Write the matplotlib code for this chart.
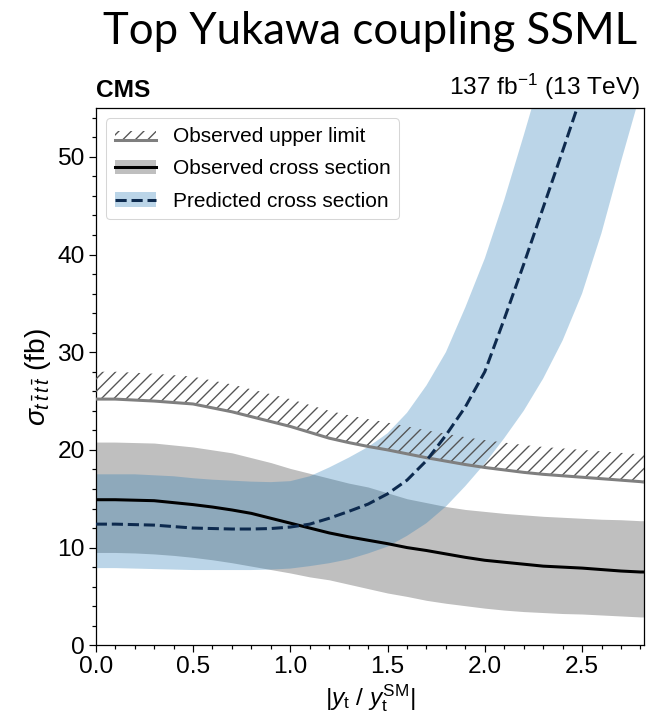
import matplotlib
matplotlib.use("Agg")
import matplotlib.pyplot as plt
from matplotlib.patches import Patch, Rectangle
from matplotlib.lines import Line2D
from matplotlib.legend_handler import HandlerBase, HandlerTuple

# |y_t / y_t^SM| scan points
kt = [0.0, 0.1, 0.2, 0.3, 0.4, 0.5, 0.6, 0.7, 0.8, 0.9, 1.0, 1.1, 1.2, 1.3, 1.4,
      1.5, 1.6, 1.7, 1.8, 1.9, 2.0, 2.1, 2.2, 2.3, 2.4, 2.5, 2.6, 2.7, 2.8, 2.82]

# observed 95% CL upper limit on sigma(tttt) [fb]
limit_obs = [25.2, 25.2, 25.1, 25.0, 24.85, 24.7, 24.3, 23.9, 23.4, 22.9, 22.4, 21.8,
             21.2, 20.75, 20.35, 20.0, 19.6, 19.2, 18.85, 18.5, 18.2, 17.95, 17.7,
             17.5, 17.35, 17.2, 17.05, 16.9, 16.75, 16.7]

# observed cross section and its 68% interval [fb]
xsec_obs = [14.9, 14.9, 14.85, 14.8, 14.6, 14.4, 14.15, 13.85, 13.5, 13.0, 12.5, 12.0,
            11.5, 11.1, 10.75, 10.4, 10.0, 9.7, 9.35, 9.0, 8.7, 8.5, 8.3, 8.1, 8.0,
            7.9, 7.75, 7.6, 7.5, 7.5]
xsec_obs_hi = [20.8, 20.8, 20.75, 20.7, 20.5, 20.3, 20.0, 19.7, 19.2, 18.7, 18.1, 17.6,
               17.1, 16.6, 16.2, 15.6, 15.0, 14.6, 14.2, 13.9, 13.7, 13.5, 13.35, 13.2,
               13.1, 13.0, 12.9, 12.85, 12.75, 12.75]
xsec_obs_lo = [9.5, 9.5, 9.45, 9.35, 9.2, 9.0, 8.75, 8.45, 8.1, 7.75, 7.4, 7.0, 6.7,
               6.25, 5.8, 5.35, 5.0, 4.6, 4.3, 4.05, 3.8, 3.6, 3.45, 3.35, 3.25, 3.2,
               3.1, 3.0, 2.9, 2.9]

# predicted cross section and its uncertainty band [fb]
xsec_pred = [12.4, 12.4, 12.35, 12.3, 12.15, 12.0, 11.95, 11.9, 11.9, 11.95, 12.1, 12.4,
             13.0, 13.7, 14.45, 15.5, 16.9, 18.9, 21.5, 24.4, 28.0, 33.4, 39.0, 44.8,
             50.6, 56.5, 64.0, 72.0, 80.0, 82.0]
xsec_pred_hi = [17.5, 17.5, 17.5, 17.4, 17.3, 17.1, 16.95, 16.85, 16.75, 16.7, 16.8,
                17.3, 18.2, 19.2, 20.3, 21.7, 23.8, 26.6, 30.0, 34.6, 39.6, 45.6, 52.2,
                59.0, 67.0, 76.0, 86.0, 97.0, 108.0, 110.0]
xsec_pred_lo = [7.9, 7.9, 7.85, 7.8, 7.75, 7.7, 7.7, 7.7, 7.7, 7.75, 7.85, 8.1, 8.4,
                8.8, 9.4, 10.1, 11.2, 12.5, 14.2, 16.3, 18.6, 21.2, 24.0, 27.3, 31.2,
                36.0, 42.2, 49.5, 56.5, 58.0]

x_ticks = [0.0, 0.5, 1.0, 1.5, 2.0, 2.5]
y_ticks = [0, 10, 20, 30, 40, 50]

plt.rcParams.update({
    "font.family": ["Liberation Sans", "DejaVu Sans"],
    "mathtext.fontset": "custom",
    "mathtext.rm": "Liberation Sans",
    "mathtext.it": "Liberation Sans:italic",
    "mathtext.bf": "Liberation Sans:bold",
    "hatch.linewidth": 1.3,
    "axes.linewidth": 1.2,
})

DPI = 75
fig = plt.figure(figsize=(652 / DPI, 718 / DPI), dpi=DPI)
ax = fig.add_axes([0.1469, 0.1013, 0.9882 - 0.1469, 0.8496 - 0.1013])

HATCH_H = 2.8
lim_top = [v + HATCH_H for v in limit_obs]

GRAY_LINE = "#7f7f7f"
HATCH_COL = "#555555"
NAVY = "#0d2a4e"

ax.fill_between(kt, xsec_obs_lo, xsec_obs_hi, color="#bfbfbf", lw=0, zorder=1)
ax.fill_between(kt, xsec_pred_lo, xsec_pred_hi, color="#1f77b4", alpha=0.3, lw=0, zorder=2)
ax.fill_between(kt, limit_obs, lim_top, facecolor="none", edgecolor=HATCH_COL,
                hatch="//", lw=0, zorder=3)
lim_line, = ax.plot(kt, limit_obs, color=GRAY_LINE, lw=2.9, zorder=4)
ax.plot(kt, xsec_obs, color="black", lw=2.9, zorder=5)
ax.plot(kt, xsec_pred, color=NAVY, lw=2.9, ls="--", zorder=6)

ax.set_xlim(0, 2.82)
ax.set_ylim(0, 55)
ax.set_xticks(x_ticks)
ax.set_xticklabels([f"{v:.1f}" for v in x_ticks])
ax.set_yticks(y_ticks)
ax.set_xticks([i / 10 for i in range(0, 29)], minor=True)
ax.set_yticks(list(range(0, 56, 2)), minor=True)
ax.tick_params(which="both", direction="out", top=False, right=False, labelsize=23.5,
               width=1.15)
ax.tick_params(which="major", length=6.7, pad=4)
ax.tick_params(which="minor", length=4.3)

ax.set_xlabel(r"$|y_\mathrm{t}\ /\ y_\mathrm{t}^\mathrm{SM}|$", fontsize=23.5, labelpad=4)
ax.set_ylabel(r"$\sigma_{t\,\bar{t}\,t\,\bar{t}}$ (fb)", fontsize=27, labelpad=4)

ax.text(0.0, 1.012, "CMS", transform=ax.transAxes, fontsize=23.5, fontweight="bold",
        ha="left", va="bottom")
ax.text(0.993, 1.012, r"137 fb$^{-1}$ (13 TeV)", transform=ax.transAxes, fontsize=23.5,
        ha="right", va="bottom")

fig.text(0.5675, 1 - 44 / 718, "Top Yukawa coupling SSML", family="Lato",
         fontweight="normal", fontsize=42, ha="center", va="baseline")


class HatchedLimitHandler(HandlerBase):
    """Hatched strip sitting on top of a solid line, as drawn in the plot."""

    def create_artists(self, legend, orig_handle, xdescent, ydescent, width, height,
                       fontsize, trans):
        x0, y0 = -xdescent, -ydescent
        yline = y0 + 0.12 * height
        rect = Rectangle((x0, yline), width, 0.62 * height, facecolor="none",
                         edgecolor=HATCH_COL, hatch="//", lw=0, transform=trans)
        line = Line2D([x0, x0 + width], [yline, yline], color=GRAY_LINE, lw=2.9,
                      transform=trans)
        return [rect, line]


obs_handle = (Patch(facecolor="#bfbfbf", lw=0), Line2D([], [], color="black", lw=2.9))
pred_handle = (Patch(facecolor="#1f77b4", alpha=0.3, lw=0),
               Line2D([], [], color=NAVY, lw=2.9, ls="--"))

ax.legend([lim_line, obs_handle, pred_handle],
          ["Observed upper limit", "Observed cross section", "Predicted cross section"],
          handler_map={lim_line: HatchedLimitHandler(),
                       tuple: HandlerTuple(ndivide=1)},
          loc="upper left", fontsize=20, framealpha=0.8, labelspacing=0.65)

fig.savefig("out.png", dpi=DPI)
